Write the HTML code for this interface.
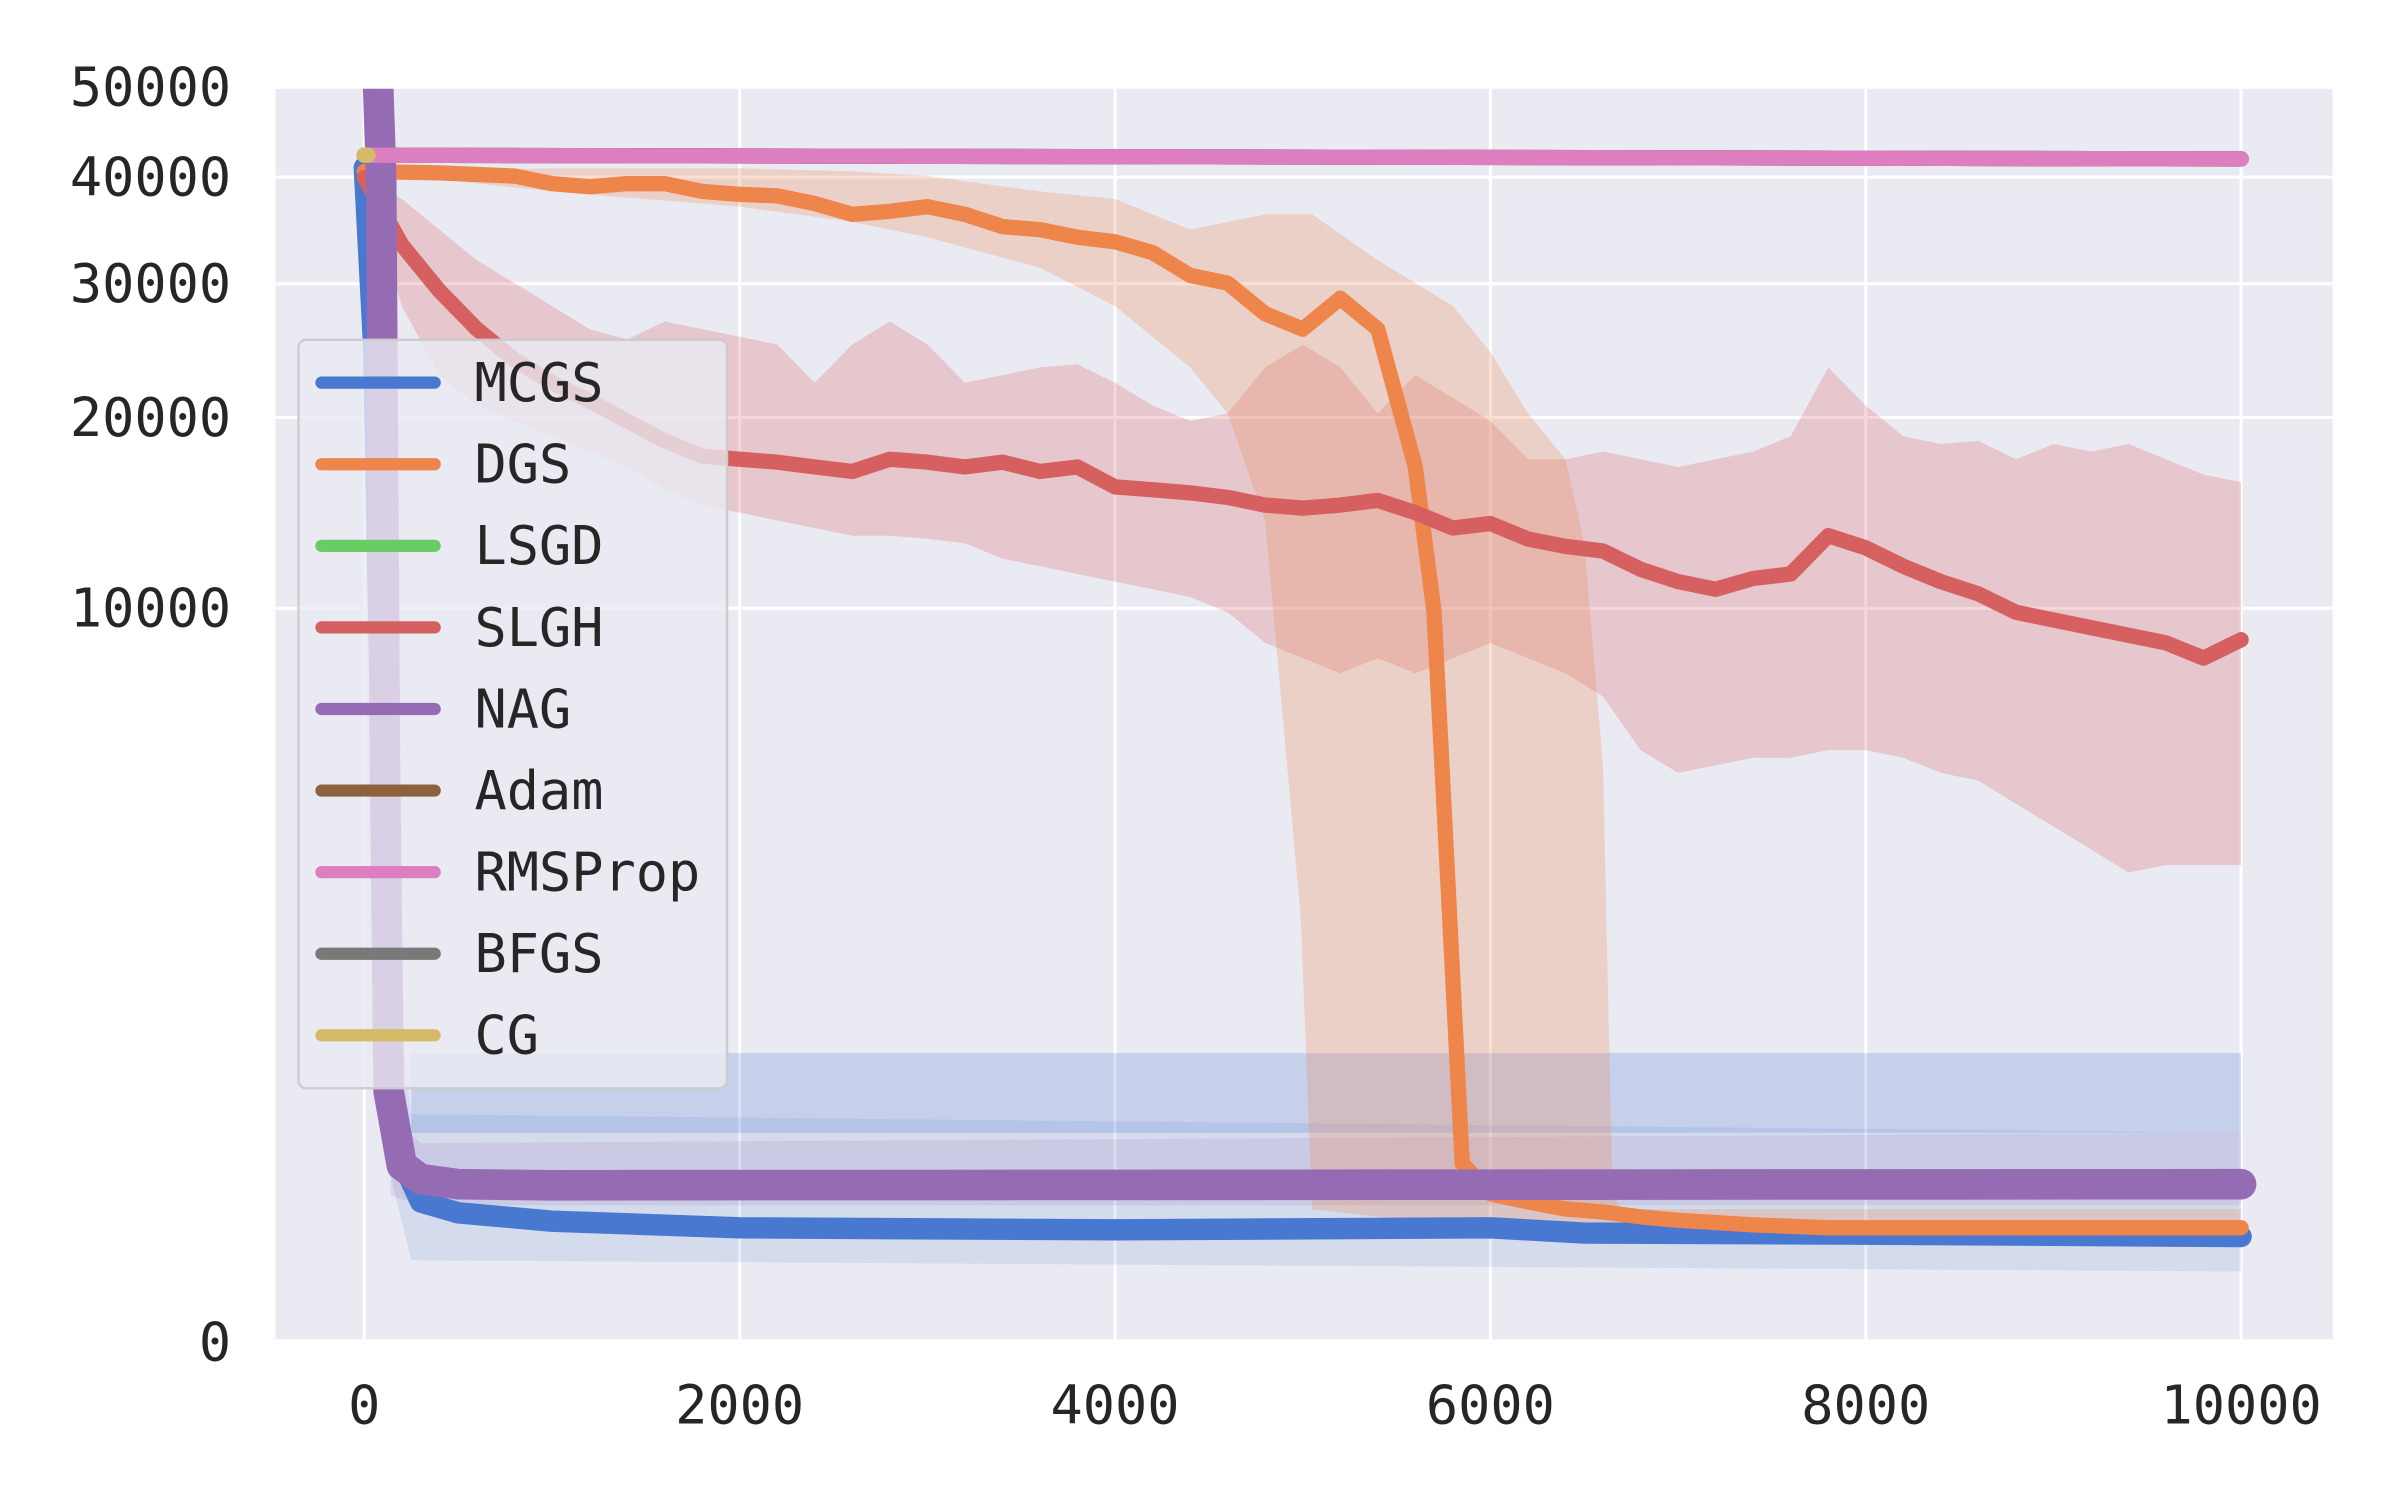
<!DOCTYPE html>
<html><head><meta charset="utf-8"><style>
html,body{margin:0;padding:0;background:#fff;width:2400px;height:1500px;overflow:hidden}
svg{display:block}
text{font-family:"DejaVu Sans Mono","Liberation Mono",monospace;fill:#262626}
</style></head><body>
<svg id="chart" width="2400" height="1500" viewBox="0 0 1568 980" xmlns="http://www.w3.org/2000/svg">
<defs><clipPath id="pc"><rect x="180" y="58" width="1344" height="817"/></clipPath></defs>
<rect x="180" y="58" width="1344" height="817" fill="#eaeaf2"/>
<g id="grid"></g>
<g id="bands" clip-path="url(#pc)"></g>
<g id="lines" clip-path="url(#pc)"></g>
<g id="axes"></g>
<g id="legend"></g>
</svg>
<script>
const xTicks=[0,2000,4000,6000,8000,10000];
const yTicks=[0,10000,20000,30000,40000,50000];
const gx=[0,200,400,600,800,1000,1200,1400,1600,1800,2000,2200,2400,2600,2800,3000,3200,3400,3600,3800,4000,4200,4400,4600,4800,5000,5200,5400,5600,5800,6000,6200,6400,6600,6800,7000,7200,7400,7600,7800,8000,8200,8400,8600,8800,9000,9200,9400,9600,9800,10000];
const slghMean=[39960,33420,29400,26300,23990,22340,21090,19780,18530,17600,17410,17240,16960,16700,17410,17240,16960,17240,16700,16960,15830,15670,15500,15250,14840,14680,14840,15090,14440,13650,13880,13110,12750,12530,11680,11130,10800,11270,11470,13270,12680,11820,11130,10600,9840,9530,9230,8940,8650,8100,8770];
const slghUpper=[39960,37790,34830,32040,30050,28140,26300,25500,26900,26300,25710,25120,22340,25120,26900,25120,22340,22880,23430,23650,22340,20780,19780,20270,23430,25120,23430,20270,22880,21290,19780,17410,17410,17870,17410,16960,17410,17870,18810,23430,20780,18810,18330,18520,17410,18330,17870,18330,17410,16520,16090];
const slghLower=[39960,28140,22880,20780,19780,18810,17870,16960,15670,14840,14440,14040,13650,13270,13270,13120,12900,12170,11820,11470,11130,10800,10470,9840,8650,8100,7570,8100,7570,8100,8650,8100,7570,6810,5250,4670,4860,5050,5050,5250,5250,5050,4670,4480,3950,3470,3030,2620,2750,2750,2750];
const dgsX=[0,400,800,1000,1200,1400,1600,1800,2000,2200,2400,2600,2800,3000,3200,3400,3600,3800,4000,4200,4400,4600,4800,5000,5200,5400,5500,5600,5700,5850,6000,6200,6400,6600,6800,7000,7400,7800,8200,9000,10000];
const dgsMean=[40590,40440,40110,39330,39020,39330,39330,38550,38250,38100,37340,36290,36580,37040,36290,35120,34830,34120,33700,32720,30710,30050,27510,26300,28770,26300,21290,16960,9840,145,83,70,60,56,50,46,41,38,38,38,38];
const dgsBandX=[0,1000,2000,2600,3000,3600,4000,4400,4600,4800,4990,5050,5400,5800,6000,6200,6400,6500,6600,6650,6700,10000];
const dgsUpper=[40590,40910,40910,40590,40110,38550,37790,34830,35560,36290,36290,36290,32040,28140,24550,20270,17410,12900,4860,83,60,60];
const dgsLower=[40590,38550,37040,35560,34120,31370,28140,23430,20270,14040,1926,60,50,41,34,34,34,34,30,30,30,30];
const mcgsX=[0,50,100,150,200,300,500,1000,2000,4000,6000,6500,8000,10000];
const mcgsMean=[41000,25000,3000,400,150,70,55,45,38,36,38,33,32,30];
const mcgsBandX=[0,100,150,250,10000];
const mcgsUpper=[41000,20000,1500,300,233];
const mcgsLower=[41000,5000,100,14,9];
const mcgsRectX=[250,10000];
const mcgsRectUpper=[612,612];
const mcgsRectLower=[233,233];
const nagX=[0,60,90,110,130,200,300,500,1000,10000];
const nagMean=[80000,60000,40000,5000,400,140,110,100,98,100];
const nagBandX=[0,120,140,300,10000];
const nagUpper=[80000,80000,300,200,233];
const nagLower=[80000,40000,80,65,65];
const flatX=[0,10000];
const rmsMean=[42300,41900];
const cgX=[0,20];
const cgMean=[42300,42300];
const legendNames=["MCGS","DGS","LSGD","SLGH","NAG","Adam","RMSProp","BFGS","CG"];
const legendColors=["#4878d0","#ee854a","#6acc64","#d65f5f","#956cb4","#8c613c","#dc7ec0","#797979","#d5bb67"];

const NS="http://www.w3.org/2000/svg";
function sx(v){return 238+v*0.12262;}
function sy(v){return 877-22.26*Math.cbrt(v);}
function mk(tag,parent,attrs){const e=document.createElementNS(NS,tag);for(const k in attrs)e.setAttribute(k,attrs[k]);parent.appendChild(e);return e;}
const grid=document.getElementById('grid'),axes=document.getElementById('axes'),bands=document.getElementById('bands'),lines=document.getElementById('lines'),legend=document.getElementById('legend');

xTicks.forEach(t=>{
 const l=mk('line',grid,{x1:sx(t),x2:sx(t),y1:58,y2:875,stroke:'#fff','stroke-width':2});
 
 
 const tx=mk('text',axes,{x:sx(t),y:930,'text-anchor':'middle','font-size':35});
 tx.textContent=t;
 
 
});
yTicks.forEach(t=>{
 const l=mk('line',grid,{x1:180,x2:1524,y1:sy(t),y2:sy(t),stroke:'#fff','stroke-width':2});
 
 
 const tx=mk('text',axes,{x:151,y:sy(t)+12,'text-anchor':'end','font-size':35});
 tx.textContent=t;
 
 
});

function band(xs,up,lo,color,op,name){
 let d='M'+xs.map((x,i)=>sx(x)+','+sy(up[i])).join('L');
 for(let i=xs.length-1;i>=0;i--)d+='L'+sx(xs[i])+','+sy(lo[i]);
 const p=mk('path',bands,{d:d+'Z',fill:color,'fill-opacity':op});
 
 
}
function line(xs,ys,color,w,name){
 const p=mk('path',lines,{d:'M'+xs.map((x,i)=>sx(x)+','+sy(ys[i])).join('L'),fill:'none',stroke:color,'stroke-width':w,'stroke-linejoin':'round','stroke-linecap':'round'});
 
 
}
band(mcgsBandX,mcgsUpper,mcgsLower,'#4878d0',0.13,'mcgs-band');
band(mcgsRectX,mcgsRectUpper,mcgsRectLower,'#4878d0',0.22,'mcgs-outer-band');
band(nagBandX,nagUpper,nagLower,'#956cb4',0.15,'nag-band');
band(gx,slghUpper,slghLower,'#d65f5f',0.25,'slgh-band');
band(dgsBandX,dgsUpper,dgsLower,'#ee854a',0.25,'dgs-band');
line(mcgsX,mcgsMean,'#4878d0',14,'mcgs-line');
line(dgsX,dgsMean,'#ee854a',10,'dgs-line');
line(gx,slghMean,'#d65f5f',10,'slgh-line');
line(nagX,nagMean,'#956cb4',20,'nag-line');
line(flatX,rmsMean,'#6acc64',10,'lsgd-line');
line(flatX,rmsMean,'#8c613c',10,'adam-line');
line(flatX,rmsMean,'#797979',10,'bfgs-line');
line(flatX,rmsMean,'#dc7ec0',10,'rmsprop-line');
line(cgX,cgMean,'#d5bb67',10,'cg-line');

const box=mk('rect',legend,{x:195,y:222,width:280,height:489,rx:5,fill:'#eaeaf2','fill-opacity':0.8,stroke:'#cccccc','stroke-width':1.5});


legendNames.forEach((n,i)=>{
 const y=250+i*53.3;
 const l=mk('line',legend,{x1:210,x2:284,y1:y,y2:y,stroke:legendColors[i],'stroke-width':8,'stroke-linecap':'round'});
 
 
 const t=mk('text',legend,{x:310,y:y+12,'font-size':35});
 t.textContent=n;
 
 
});
</script>
</body></html>
